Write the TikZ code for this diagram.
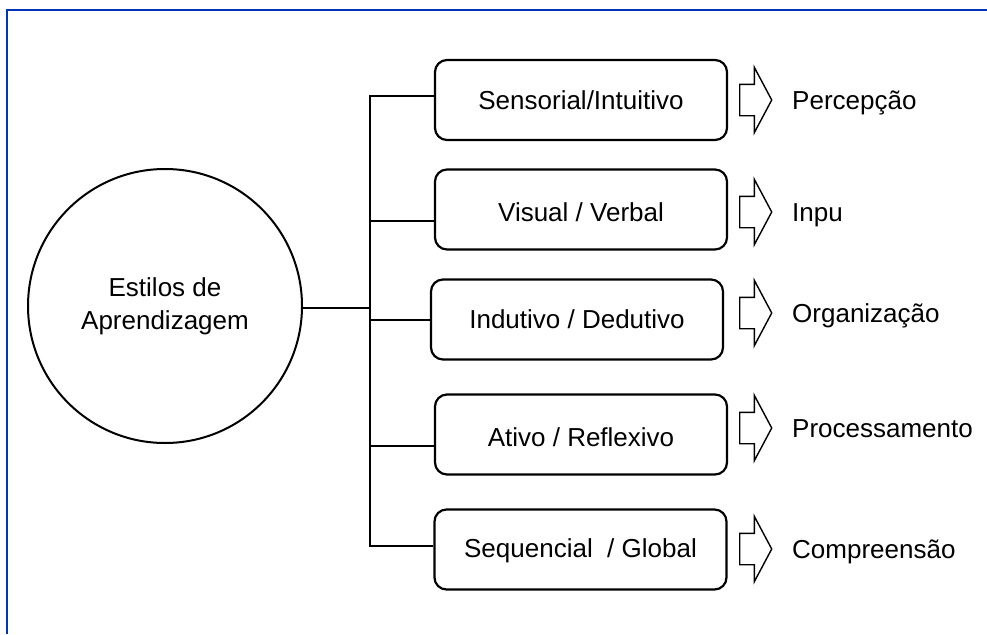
\documentclass[tikz,border=0pt]{standalone}
\usepackage{fontspec}
\setmainfont{Liberation Sans}
\usetikzlibrary{shapes.arrows}
\definecolor{frameblue}{RGB}{0,52,188}

\begin{document}
\begin{tikzpicture}[x=1pt, y=-1pt, font=\fontsize{26}{33}\selectfont,
  estilo/.style={draw, line width=2.2pt, rounded corners=12pt,
    minimum width=292pt, minimum height=80pt, inner sep=0pt,
    text height=36pt, text depth=18pt},
  seta/.style={single arrow, draw, line width=1.4pt, inner xsep=0pt,
    inner ysep=15pt, minimum height=32pt, single arrow head extend=17pt,
    single arrow tip angle=124, anchor=tail},
  rotulo/.style={anchor=base west, inner sep=0pt},
  ligacao/.style={line width=2pt}
  ]
  \useasboundingbox (0,0) rectangle (987,634);
  \draw[frameblue, line width=2.8pt] (7,634) -- (7,10) -- (987,10);

  % centro
  \node[draw, circle, line width=2pt, minimum size=274pt, align=center]
    (estilos) at (165,306) {Estilos de\\Aprendizagem};

  % dimensoes
  \node[estilo] (b1) at (581,100) {Sensorial/Intuitivo};
  \node[estilo, text height=41pt] (b2) at (581,209.5) {Visual / Verbal};
  \node[estilo] (b3) at (577,319.5) {Indutivo / Dedutivo};
  \node[estilo, text height=41pt] (b4) at (581,434.5) {Ativo / Reflexivo};
  \node[estilo, text height=33pt] (b5) at (580.5,549.5) {Sequencial~~/ Global};

  % ligacoes
  \coordinate (t1) at (370,96);
  \coordinate (t5) at (370,546);
  \draw[ligacao] ([yshift=4pt]b1.west) -- (t1) -- (t5) -- ([yshift=3.5pt]b5.west);
  \path ([yshift=-11.5pt]b2.west) coordinate (p2);
  \path ([yshift=-11.5pt]b4.west) coordinate (p4);
  \draw[ligacao] (p2) -- (p2 -| t1);
  \draw[ligacao] (b3.west) -- (b3.west -| t1);
  \draw[ligacao] (p4) -- (p4 -| t1);
  \draw[ligacao] ([yshift=-2pt]estilos.east) -- ([yshift=-2pt]estilos.east -| t1);

  % setas e rotulos
  \node[seta] (s1) at (739,100) {};
  \node[seta] (s2) at (739,212) {};
  \node[seta] (s3) at (739,313) {};
  \node[seta] (s4) at (739,428) {};
  \node[seta] (s5) at (739,549) {};
  \node[rotulo] (r1) at (792,109) {Percepção};
  \node[rotulo] (r2) at (792,221) {Inpu};
  \node[rotulo] (r3) at (792,322) {Organização};
  \node[rotulo] (r4) at (792,437) {Processamento};
  \node[rotulo] (r5) at (792,558) {Compreensão};
\end{tikzpicture}
\end{document}
